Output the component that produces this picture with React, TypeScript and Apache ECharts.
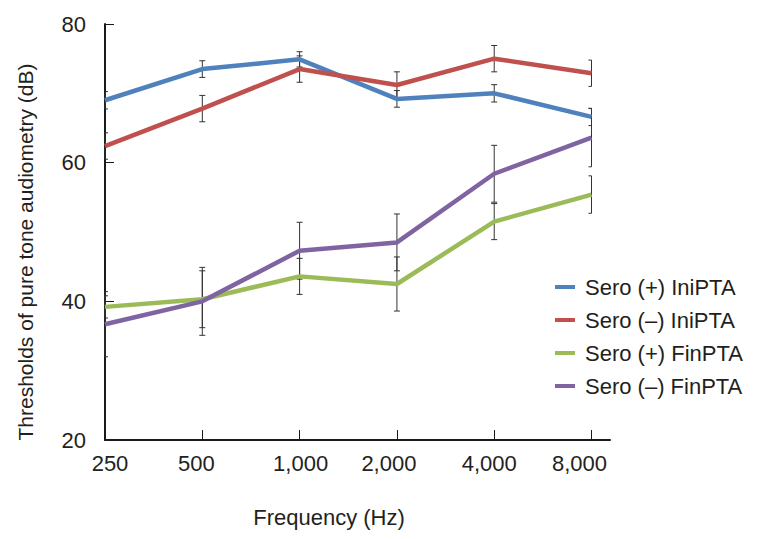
import React, { useEffect, useRef } from "react";
import * as echarts from "echarts";

const categories = ["250", "500", "1,000", "2,000", "4,000", "8,000"];
const seriesNames = ["Sero (+) IniPTA", "Sero (–) IniPTA", "Sero (+) FinPTA", "Sero (–) FinPTA"];
const seroPosIni = [69.0, 73.5, 74.9, 69.2, 70.0, 66.6];
const seroNegIni = [62.4, 67.8, 73.5, 71.2, 75.0, 72.9];
const seroPosFin = [39.2, 40.3, 43.6, 42.5, 51.5, 55.4];
const seroNegFin = [36.7, 40.0, 47.3, 48.5, 58.4, 63.6];
const errPosIni = [1.25, 1.2, 1.1, 1.2, 1.25, 1.25];
const errNegIni = [1.9, 1.9, 1.9, 1.9, 1.9, 1.9];
const errPosFin = [1.6, 4.1, 2.6, 3.9, 2.6, 2.7];
const errNegFin = [4.7, 4.9, 4.1, 4.1, 4.1, 4.2];
const yMin = 20;
const yMax = 80;
const yStep = 20;

const colors = ["#4f81bd", "#c0504d", "#9bbb59", "#8064a2"];
const textColor = "#231f20";
const fontFamily = '"Liberation Sans", Arial, Helvetica, sans-serif';
// horizontal nudges of the x tick labels (px), styling only
const labelShift = [5, -6, 1, -8, -5, -12];

export default function App() {
  const ref = useRef<HTMLDivElement>(null);

  useEffect(() => {
    if (!ref.current) return;
    const chart = echarts.init(ref.current, undefined, { renderer: "svg" });
    const values = [seroPosIni, seroNegIni, seroPosFin, seroNegFin];
    const errors = [errPosIni, errNegIni, errPosFin, errNegFin];
    const idx = categories.map((_, i) => i);
    const last = categories.length - 1;

    const rich: Record<string, any> = {};
    labelShift.forEach((d, i) => {
      rich["p" + i] = {
        fontSize: 22,
        fontFamily,
        color: textColor,
        padding: d >= 0 ? [0, 0, 0, 2 * d] : [0, -2 * d, 0, 0],
      };
    });

    const errSeries = values.map((vals, s) => ({
      type: "custom",
      name: "err" + s,
      z: 1,
      silent: true,
      encode: { x: 0, y: [1, 2] },
      data: vals.map((v, i) => [i, v - errors[s][i], v + errors[s][i]]),
      renderItem: (params: any, api: any) => {
        const xi = api.value(0);
        const lo = api.coord([xi, api.value(1)]);
        const hi = api.coord([xi, api.value(2)]);
        const x = lo[0];
        const l = xi === 0 ? x : x - 3;
        const r = xi === last ? x : x + 3;
        const style = { stroke: "#333333", lineWidth: 1 };
        return {
          type: "group",
          children: [
            { type: "line", shape: { x1: x, y1: hi[1], x2: x, y2: lo[1] }, style },
            { type: "line", shape: { x1: l, y1: hi[1], x2: r, y2: hi[1] }, style },
            { type: "line", shape: { x1: l, y1: lo[1], x2: r, y2: lo[1] }, style },
          ],
        };
      },
    }));

    const lineSeries = values.map((vals, s) => ({
      type: "line",
      name: seriesNames[s],
      z: 2,
      symbol: "none",
      color: colors[s],
      lineStyle: { width: 4.5, color: colors[s] },
      emphasis: { disabled: true },
      data: vals.map((v, i) => [i, v]),
    }));

    chart.setOption({
      animation: false,
      grid: { left: 105, right: 149, top: 24, bottom: 99, containLabel: false, outerBoundsMode: "none" },
      xAxis: {
        type: "value",
        min: 0,
        max: 5.19,
        splitLine: { show: false },
        axisLine: { show: true, lineStyle: { color: "#1a1a1a", width: 2 } },
        axisTick: { show: true, inside: true, length: 10, customValues: idx, lineStyle: { color: "#1a1a1a", width: 1 } },
        axisLabel: {
          customValues: idx,
          margin: 12,
          fontSize: 22,
          fontFamily,
          color: textColor,
          formatter: (v: number) => {
            const i = Math.round(v);
            return "{p" + i + "|" + categories[i] + "}";
          },
          rich,
        },
      },
      yAxis: {
        type: "value",
        min: yMin,
        max: yMax,
        interval: yStep,
        splitLine: { show: false },
        axisLine: { show: true, lineStyle: { color: "#1a1a1a", width: 2 } },
        axisTick: { show: true, inside: true, length: 9, lineStyle: { color: "#1a1a1a", width: 1 } },
        axisLabel: { margin: 19, fontSize: 22, fontFamily, color: textColor },
      },
      legend: {
        data: seriesNames,
        orient: "vertical",
        left: 555,
        top: 276,
        padding: 0,
        itemWidth: 20,
        itemHeight: 4,
        itemGap: 11,
        icon: "rect",
        selectedMode: false,
        textStyle: { fontSize: 22, fontFamily, color: textColor, padding: [0, 0, 0, 5] },
      },
      graphic: [
        {
          type: "text",
          x: 25,
          y: 252,
          rotation: Math.PI / 2,
          style: {
            text: "Thresholds of pure tone audiometry (dB)",
            font: "21px " + fontFamily,
            fill: textColor,
            align: "center",
            verticalAlign: "middle",
          },
        },
        {
          type: "text",
          x: 329,
          y: 517,
          style: {
            text: "Frequency (Hz)",
            font: "22px " + fontFamily,
            fill: textColor,
            align: "center",
            verticalAlign: "middle",
          },
        },
      ],
      series: [...errSeries, ...lineSeries],
    });

    return () => chart.dispose();
  }, []);

  return (
    <div
      ref={ref}
      style={{ position: "fixed", left: 0, top: 0, width: 759, height: 539, background: "#ffffff" }}
    />
  );
}
